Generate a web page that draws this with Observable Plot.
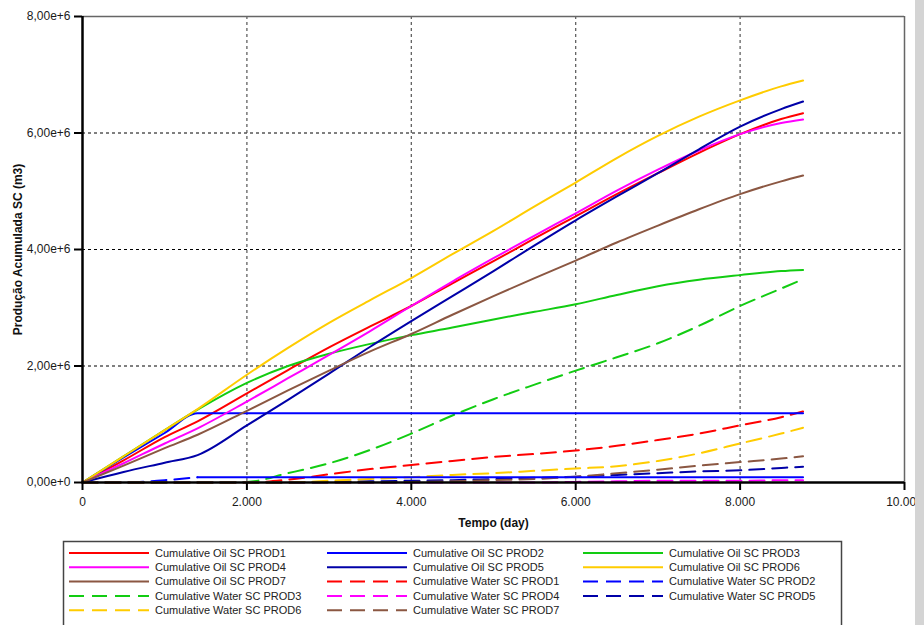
<!DOCTYPE html>
<html>
<head>
<meta charset="utf-8">
<script src="https://cdn.jsdelivr.net/npm/d3@7"></script>
<script src="https://cdn.jsdelivr.net/npm/@observablehq/plot@0.6"></script>
<style>
  html, body { margin: 0; padding: 0; background: #ffffff; }
  body { width: 924px; height: 625px; position: relative; overflow: hidden; font-family: "Liberation Sans", Arial, sans-serif; }
  #chart svg { display: block; }
  #legend { position: absolute; left: 0; top: 535px; }
  #strip { position: absolute; left: 915px; top: 0; width: 9px; height: 625px; background: #d4d4d4; }
  g[aria-label="y-axis label"] text, g[aria-label="x-axis label"] text { font-weight: bold; fill: #111; }
</style>
</head>
<body>
<div id="chart"></div>
<div id="legend"></div>
<div id="strip"></div>
<script>
// ---- data (cumulative volumes in millions of m3) ----
const days = [0, 500, 1000, 1400, 2000, 2500, 3000, 3500, 4000, 4500, 5000, 5500, 6000, 6500, 7000, 7500, 8000, 8500, 8766];

const oilProd1 = [0, 0.38, 0.78, 1.05, 1.53, 1.93, 2.32, 2.68, 3.03, 3.42, 3.80, 4.19, 4.57, 4.95, 5.31, 5.66, 5.98, 6.24, 6.34];
const oilProd2 = [0, 0.43, 0.85, 1.19, 1.19, 1.19, 1.19, 1.19, 1.19, 1.19, 1.19, 1.19, 1.19, 1.19, 1.19, 1.19, 1.19, 1.19, 1.19];
const oilProd3 = [0, 0.45, 0.90, 1.25, 1.71, 2.00, 2.21, 2.38, 2.53, 2.66, 2.80, 2.93, 3.06, 3.22, 3.37, 3.48, 3.56, 3.63, 3.65];
const oilProd4 = [0, 0.33, 0.67, 0.93, 1.39, 1.79, 2.19, 2.60, 3.03, 3.45, 3.85, 4.24, 4.62, 5.01, 5.37, 5.70, 5.98, 6.17, 6.23];
const oilProd5 = [0, 0.18, 0.34, 0.47, 0.98, 1.42, 1.87, 2.33, 2.77, 3.20, 3.63, 4.07, 4.50, 4.91, 5.31, 5.72, 6.11, 6.41, 6.54];
const oilProd6 = [0, 0.45, 0.90, 1.26, 1.85, 2.31, 2.74, 3.13, 3.51, 3.92, 4.32, 4.74, 5.15, 5.57, 5.95, 6.28, 6.56, 6.80, 6.90];
const oilProd7 = [0, 0.29, 0.59, 0.82, 1.23, 1.58, 1.92, 2.25, 2.55, 2.88, 3.20, 3.51, 3.81, 4.12, 4.41, 4.69, 4.95, 5.17, 5.27];

const waterProd1 = [0, 0, 0, 0, 0, 0.05, 0.14, 0.23, 0.30, 0.37, 0.44, 0.49, 0.55, 0.63, 0.73, 0.84, 0.98, 1.12, 1.22];
const waterProd2 = [0, 0, 0.04, 0.09, 0.09, 0.09, 0.09, 0.09, 0.09, 0.09, 0.09, 0.09, 0.09, 0.09, 0.09, 0.09, 0.09, 0.09, 0.09];
const waterProd3 = [0, 0, 0, 0, 0.01, 0.16, 0.33, 0.56, 0.84, 1.15, 1.43, 1.68, 1.92, 2.15, 2.39, 2.69, 3.03, 3.33, 3.49];
const waterProd4 = [0, 0, 0, 0, 0, 0, 0, 0, 0, 0, 0, 0, 0.01, 0.02, 0.03, 0.03, 0.03, 0.04, 0.04];
const waterProd5 = [0, 0, 0, 0, 0, 0, 0.01, 0.02, 0.03, 0.04, 0.06, 0.08, 0.10, 0.13, 0.16, 0.19, 0.21, 0.25, 0.27];
const waterProd6 = [0, 0, 0, 0, 0, 0, 0.03, 0.06, 0.09, 0.13, 0.16, 0.20, 0.24, 0.28, 0.37, 0.50, 0.67, 0.84, 0.94];
const waterProd7 = [0, 0, 0, 0, 0, 0, 0, 0, 0.01, 0.02, 0.04, 0.06, 0.10, 0.16, 0.22, 0.29, 0.35, 0.41, 0.45];

const seriesNames = [
  "Cumulative Oil SC PROD1", "Cumulative Oil SC PROD2", "Cumulative Oil SC PROD3",
  "Cumulative Oil SC PROD4", "Cumulative Oil SC PROD5", "Cumulative Oil SC PROD6",
  "Cumulative Oil SC PROD7", "Cumulative Water SC PROD1", "Cumulative Water SC PROD2",
  "Cumulative Water SC PROD3", "Cumulative Water SC PROD4", "Cumulative Water SC PROD5",
  "Cumulative Water SC PROD6", "Cumulative Water SC PROD7"
];
const seriesValues = [oilProd1, oilProd2, oilProd3, oilProd4, oilProd5, oilProd6, oilProd7,
  waterProd1, waterProd2, waterProd3, waterProd4, waterProd5, waterProd6, waterProd7];
const seriesColors = ["#ff0000", "#0000ff", "#12cc12", "#ff00ff", "#0000a8", "#ffcc00", "#8b5742",
  "#ff0000", "#0000ff", "#12cc12", "#ff00ff", "#0000a8", "#ffcc00", "#8b5742"];
const seriesDashed = [false, false, false, false, false, false, false, true, true, true, true, true, true, true];

const yTicks = [0, 2, 4, 6, 8];
const yTickLabels = ["0,00e+0", "2,00e+6", "4,00e+6", "6,00e+6", "8,00e+6"];
const xTicks = [0, 2000, 4000, 6000, 8000, 10000];
const xTickLabels = ["0", "2.000", "4.000", "6.000", "8.000", "10.000"];
const xTitle = "Tempo (day)";
const yTitle = "Produção Acumulada SC (m3)";
const shutInDay = 1400; // PROD2 water plot: dashed while rising, flat part drawn solid

// ---- build rows ----
const rows = [];
seriesNames.forEach((name, i) => {
  seriesValues[i].forEach((v, j) => rows.push({name, day: days[j], v, dashed: seriesDashed[i], idx: i}));
});
const solidRows = rows.filter(r => !r.dashed || (r.name === "Cumulative Water SC PROD2" && r.day >= shutInDay));
const dashedRows = rows.filter(r => r.dashed && !(r.name === "Cumulative Water SC PROD2" && r.day > shutInDay));

const chart = Plot.plot({
  width: 924,
  height: 535,
  marginLeft: 82,
  marginRight: 20,
  marginTop: 16,
  marginBottom: 53,
  style: {fontFamily: "'Liberation Sans', Arial, sans-serif", fontSize: "12px", color: "#1a1a1a", background: "white", overflow: "visible"},
  x: {domain: [0, 10000]},
  y: {domain: [0, 8]},
  color: {domain: seriesNames, range: seriesColors},
  marks: [
    Plot.gridY([2, 4, 6], {stroke: "#000", strokeOpacity: 1, strokeWidth: 1, strokeDasharray: "3,3"}),
    Plot.gridX([2000, 4000, 6000, 8000], {stroke: "#555", strokeOpacity: 1, strokeWidth: 1.2, strokeDasharray: "3,3"}),
    Plot.ruleY([8], {stroke: "#666", strokeWidth: 1.5}),
    Plot.ruleX([10000], {stroke: "#666", strokeWidth: 1.5}),
    Plot.line(dashedRows, {x: "day", y: "v", z: "name", stroke: "name", strokeWidth: 2, strokeDasharray: "15,8", curve: "monotone-x"}),
    Plot.line(solidRows, {x: "day", y: "v", z: "name", stroke: "name", strokeWidth: 2, curve: "monotone-x"}),
    Plot.ruleX([0], {stroke: "#000", strokeWidth: 2.5}),
    Plot.ruleY([0], {stroke: "#000", strokeWidth: 2.5}),
    Plot.axisY(yTicks, {
      tickSize: 8, tickPadding: 4, strokeWidth: 2, stroke: "#000",
      tickFormat: (d, i) => yTickLabels[yTicks.indexOf(d)],
      label: yTitle, labelAnchor: "center", labelOffset: 69, labelArrow: "none"
    }),
    Plot.axisX(xTicks, {
      tickSize: 8, tickPadding: 7, strokeWidth: 2, stroke: "#000",
      tickFormat: d => xTickLabels[xTicks.indexOf(d)],
      label: xTitle, labelAnchor: "center", labelOffset: 44, labelArrow: "none"
    })
  ]
});
document.getElementById("chart").appendChild(chart);

// ---- legend (below the plot SVG) ----
const lg = d3.select("#legend").append("svg").attr("width", 924).attr("height", 90)
  .style("font-family", "'Liberation Sans', Arial, sans-serif").style("font-size", "11px");
lg.append("rect").attr("x", 63.5).attr("y", 6.5).attr("width", 778).attr("height", 100)
  .attr("fill", "white").attr("stroke", "#444").attr("stroke-width", 1.5);
const colX = [69, 327, 583];
seriesNames.forEach((name, i) => {
  const c = i % 3, r = Math.floor(i / 3);
  const y = 18 + r * 14.3;
  lg.append("line").attr("x1", colX[c]).attr("x2", colX[c] + 80).attr("y1", y).attr("y2", y)
    .attr("stroke", seriesColors[i]).attr("stroke-width", 2)
    .attr("stroke-dasharray", seriesDashed[i] ? "15,8" : null);
  lg.append("text").attr("x", colX[c] + 86).attr("y", y).attr("dy", "0.35em")
    .attr("fill", "#222").text(name);
});
</script>
</body>
</html>
